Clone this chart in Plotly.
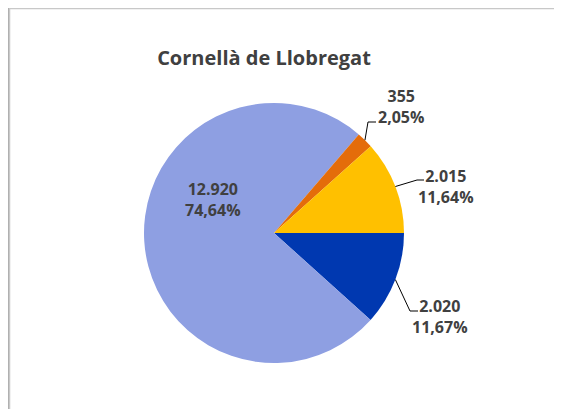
"""Pie chart of Cornellà de Llobregat, four groups, Excel-style labels."""
import math

import plotly.graph_objects as go

# --------------------------------------------------------------------------
# Data
# --------------------------------------------------------------------------
TITLE = "Cornellà de Llobregat"
CATEGORIES = ["A", "B", "C", "D"]
VALUES = [2020, 12920, 355, 2015]
COLORS = ["#0038B0", "#8E9FE2", "#E46C0A", "#FFC000"]

# label centres (page px) and leader elbows (page px, None = inside label)
LABEL_POS = [(440, 316), (213, 199), (401, 106), (446, 186)]
ELBOWS = [((410, 311), (418, 311)), None, ((368, 122), (376, 122)), ((417, 180), (424, 180))]

W, H = 562, 409
OFFSET = 8  # the page body adds an 8px margin around the figure
CX, CY, R = 274, 233, 130
TEXT_COLOR = "#404040"
FONT = "Open Sans"


def fmt_thousands(v: int) -> str:
    return f"{v:,}".replace(",", ".")


def fmt_pct(p: float) -> str:
    return f"{p:.2f}".replace(".", ",") + "%"


def px(x, y):
    """Page pixel -> paper coordinates."""
    return (x - OFFSET) / W, 1 - (y - OFFSET) / H


dx0, dy1 = px(CX - R, CY - R)
dx1, dy0 = px(CX + R, CY + R)

fig = go.Figure(
    go.Pie(
        labels=CATEGORIES,
        values=VALUES,
        marker={"colors": COLORS, "line": {"width": 0}},
        sort=False,
        direction="clockwise",
        rotation=90,
        textinfo="none",
        hoverinfo="label+value+percent",
        showlegend=False,
        domain={"x": [dx0, dx1], "y": [dy0, dy1]},
    )
)

total = sum(VALUES)
start = 0.0  # degrees, math convention, going clockwise (negative)
for value, pos, elbow in zip(VALUES, LABEL_POS, ELBOWS):
    span = value / total * 360
    mid = math.radians(start - span / 2)
    start -= span
    text = f"{fmt_thousands(value)}<br>{fmt_pct(value / total * 100)}"
    x, y = px(*pos)
    fig.add_annotation(
        text=text, x=x, y=y, xref="paper", yref="paper",
        xanchor="center", yanchor="middle", showarrow=False, align="center",
        font={"family": FONT, "size": 16, "color": TEXT_COLOR, "weight": "bold"},
    )
    if elbow:
        sx, sy = CX + R * math.cos(mid), CY - R * math.sin(mid)
        pts = [px(sx, sy), px(*elbow[0]), px(*elbow[1])]
        path = "M " + " L ".join(f"{a},{b}" for a, b in pts)
        fig.add_shape(type="path", path=path, xref="paper", yref="paper",
                      line={"color": "#000000", "width": 1})

# chart frame with a darker left edge
a, b = px(8.5, 8)
c, d = px(8.5, H + 20)
fig.add_shape(type="line", x0=a, y0=b, x1=c, y1=d, xref="paper", yref="paper",
              line={"color": "#a8a8a8", "width": 1})
a, b = px(9.5, 8.5)
c, d = px(W + 20, H + 20)
fig.add_shape(type="rect", x0=a, y0=b, x1=c, y1=d, xref="paper", yref="paper",
              line={"color": "#c8c8c8", "width": 1.5})

tx, ty = px(264, 58)
fig.update_layout(
    width=W,
    height=H,
    margin={"l": 0, "r": 0, "t": 0, "b": 0},
    paper_bgcolor="white",
    plot_bgcolor="white",
    title={
        "text": f"<b>{TITLE}</b>",
        "x": tx,
        "y": ty,
        "xanchor": "center",
        "yanchor": "middle",
        "font": {"family": FONT, "size": 20, "color": TEXT_COLOR},
    },
)

fig.write_html("out.html")
